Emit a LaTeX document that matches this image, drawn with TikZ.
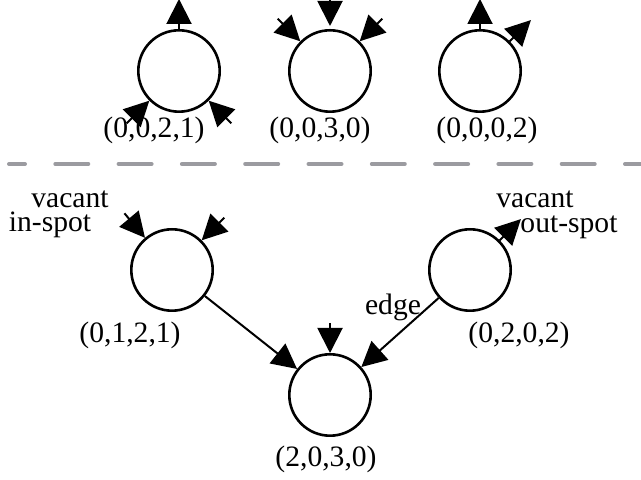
\documentclass[tikz,border=0pt]{standalone}
\usepackage{fontspec}
\setmainfont{Liberation Serif}
\usetikzlibrary{arrows.meta}
\definecolor{divgray}{RGB}{155,155,160}

\begin{document}
\begin{tikzpicture}[x=0.5pt, y=0.5pt,
    font=\fontsize{14.8}{17}\selectfont,
    state/.style={draw, circle, line width=1.3pt,
                  minimum size=40.7pt, inner sep=0pt},
    spot/.style={line width=1pt,
                 -{Triangle[length=12.5pt, width=12.5pt]}},
    lbl/.style={anchor=base, inner sep=0pt}]

\useasboundingbox (0,0) rectangle (641,480);

% top row
\node[state] (sa) at (179,409) {};
\node[state] (sb) at (330,409) {};
\node[state] (sc) at (480,409) {};
\node[lbl] (la) at (154,342) {(0,0,2,1)};
\node[lbl] (lb) at (320,342) {(0,0,3,0)};
\node[lbl] (lc) at (487,342) {(0,0,0,2)};

\draw[spot] (sa.90) -- ++(90:30);
\draw[spot] (sa.225) ++(225:32) -- (sa.225);
\draw[spot] (sa.315) ++(315:32) -- (sa.315);

\draw[spot] (sb.90) ++(90:34) -- ([yshift=1.5pt]sb.90);
\draw[spot] (sb.135) ++(135:32) -- (sb.135);
\draw[spot] (sb.45) ++(45:32) -- (sb.45);

\draw[spot] (sc.90) -- ++(90:30);
\draw[spot] (sc.45) -- ++(45:30);

% divider
\coordinate (divl) at (9,316);
\coordinate (divr) at (660,316);
\draw[divgray, line width=2pt, line cap=round,
      dash pattern=on 16.5pt off 15.15pt, dash phase=8.5pt]
    (divl) -- (divr);

% bottom: two states joined into one
\node[state] (left)   at (172,210) {};
\node[state] (right)  at (470,210) {};
\node[state] (merged) at (330,85)  {};
\node[lbl] (lleft)   at (130,137) {(0,1,2,1)};
\node[lbl] (lright)  at (519,137) {(0,2,0,2)};
\node[lbl] (lmerged) at (326,13)  {(2,0,3,0)};

\draw[spot] (left.130) ++(130:32) -- (left.130);
\draw[spot] (left.45) ++(45:32) -- (left.45);
\draw[spot] (right.45) -- ++(45:30);
\draw[spot] (merged.90) ++(90:30) -- (merged.90);

\draw[spot] (left) -- (merged);
\draw[spot] (right) -- (merged);

\node[lbl] (vin)  at (70,272)  {vacant};
\node[lbl] (in)   at (50,248)  {in-spot};
\node[lbl] (vout) at (535,272) {vacant};
\node[lbl] (out)  at (569,247) {out-spot};
\node[lbl] (edge) at (393,165) {edge};

\end{tikzpicture}
\end{document}
